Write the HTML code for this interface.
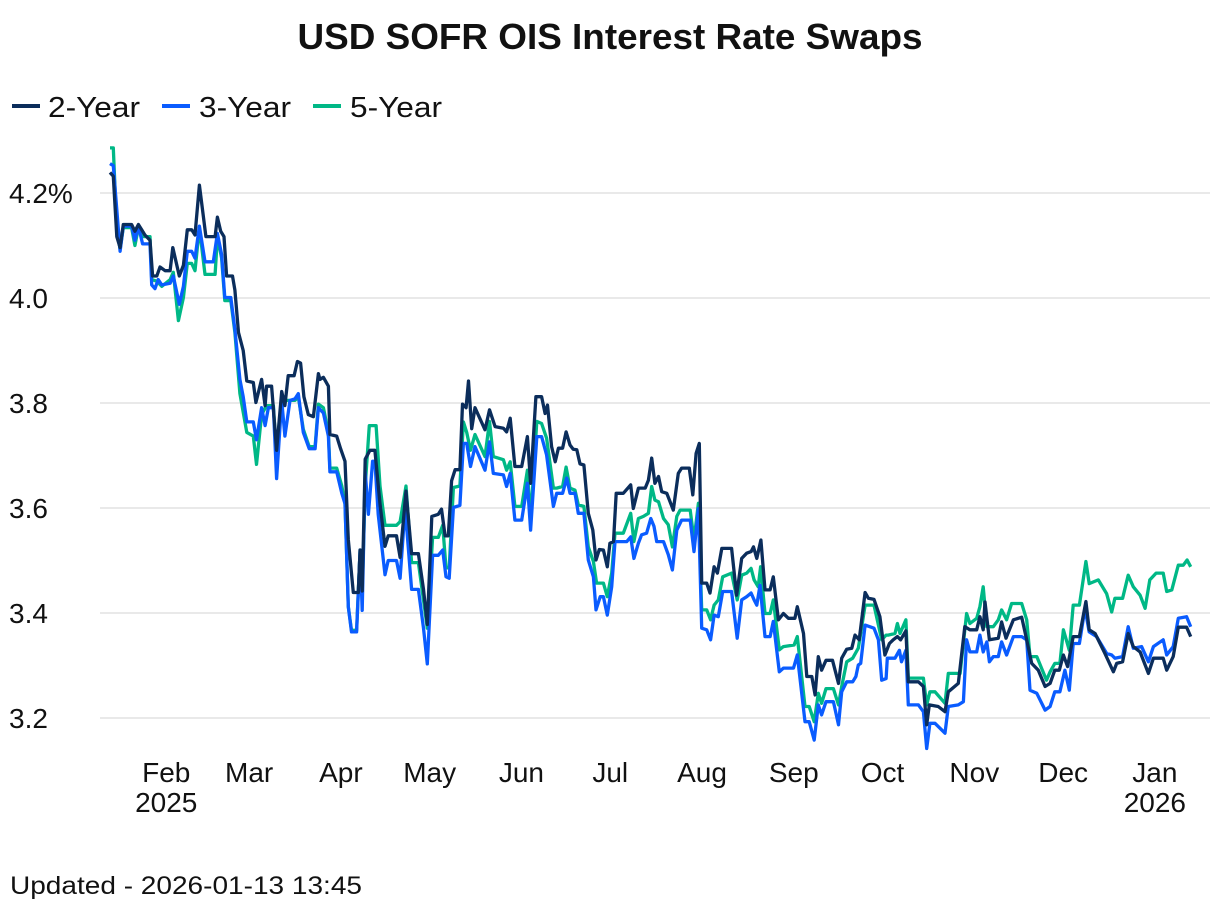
<!DOCTYPE html>
<html><head><meta charset="utf-8"><style>
html,body{margin:0;padding:0;background:#fff;}
body{width:1220px;height:914px;overflow:hidden;font-family:"Liberation Sans",sans-serif;}
</style></head><body>
<svg id="chart" width="1220" height="914" xmlns="http://www.w3.org/2000/svg" font-family="Liberation Sans, sans-serif">
<text x="610" y="49" text-anchor="middle" font-size="36" font-weight="bold" fill="#111" textLength="625" lengthAdjust="spacingAndGlyphs">USD SOFR OIS Interest Rate Swaps</text>
<g font-size="29" fill="#111">
<g><line x1="12" y1="106" x2="40" y2="106" stroke="#0b2d5b" stroke-width="4"/><text x="48" y="117" textLength="92" lengthAdjust="spacingAndGlyphs">2-Year</text></g>
<g><line x1="162" y1="106" x2="190" y2="106" stroke="#0a5cff" stroke-width="4"/><text x="199" y="117" textLength="92" lengthAdjust="spacingAndGlyphs">3-Year</text></g>
<g><line x1="313" y1="106" x2="341" y2="106" stroke="#00b886" stroke-width="4"/><text x="350" y="117" textLength="92" lengthAdjust="spacingAndGlyphs">5-Year</text></g>
</g>
<g id="grid"></g>
<g id="yaxis"></g>
<g id="xaxis"></g>
<g id="series"></g>
<text x="10" y="894" font-size="25" fill="#111" textLength="352" lengthAdjust="spacingAndGlyphs">Updated - 2026-01-13 13:45</text>
</svg>
<script>
const yTicks=[4.2,4.0,3.8,3.6,3.4,3.2];
const yTickLabels=["4.2%","4.0","3.8","3.6","3.4","3.2"];
const monthDays=[19,47,78,108,139,169,200,231,261,292,322,353];
const monthLabels=["Feb","Mar","Apr","May","Jun","Jul","Aug","Sep","Oct","Nov","Dec","Jan"];
const yearDays=[19,353];
const yearLabels=["2025","2026"];
const days2=[0,1.1,2.3,3.4,4.5,7.3,8.4,9.6,10.7,11.8,13.5,14.4,15.8,16.9,18.6,20.3,21.2,23.4,24.8,26.1,27.6,28.7,30.2,32.4,35.5,36.3,37.4,38.5,39.4,41.4,42.2,43.4,45,46.2,48.4,49.3,51.2,52.4,52.9,54.6,56.3,58,59.1,60.2,62.2,63.3,64.4,65.5,67,68.7,70.4,70.9,72.1,73.8,74.3,76.6,77.9,79.4,80.5,82.2,83.9,84.5,85.2,86.2,87.8,89.5,91.2,92.9,94,96.8,98,100,101.9,104.2,105.9,107.2,108.7,110.9,112,113.2,114.3,115.4,116.6,118.2,119.1,120.3,121.1,122.2,123.3,126.7,128.2,130.1,132.9,134,135.2,136.8,139.1,141,142.1,143.9,145.8,147,147.8,149.2,150.4,151.5,152.9,154.1,155.4,156.5,157.7,158.8,160.1,161.6,163.1,164.2,165.3,166.7,168,168.9,170.1,171,173.4,175.9,176.8,178.5,180.8,181.9,183,184.1,185.3,186.4,188.1,190.3,192,193.1,195.7,196.9,198,199.1,199.9,201.6,202.7,204.1,205.2,206.7,210,211.7,213.4,215.1,216.6,217.4,218.5,219.9,221.3,223,224.1,225.8,227.5,229.2,231.4,232.2,234.3,235.4,237.1,238.2,239.3,240.4,241.9,244.1,246.1,247.2,248.9,250.6,251.7,253.1,255.1,256.2,258.1,260.1,261.8,263.3,264.6,266,267.1,268.9,269.7,273.1,274.8,275.9,276.8,279.8,282.1,283.2,286.6,288.8,290.5,292.8,293.9,295,295.6,297.1,300.1,301.2,302.7,305.2,308,309.7,311.4,313.6,315.9,317.6,319.2,320.7,322.1,323.5,325.4,327.5,329.7,330.8,332.8,336.1,339,340.1,342.1,344,345.7,348,350.8,352.5,355.8,357,359.2,360.9,363.7,365.1];
const vals2=[4.239,4.232,4.117,4.096,4.14,4.14,4.127,4.14,4.13,4.12,4.11,4.042,4.042,4.059,4.052,4.052,4.096,4.042,4.062,4.13,4.13,4.12,4.215,4.117,4.117,4.154,4.127,4.117,4.042,4.042,4.015,3.934,3.9,3.842,3.839,3.801,3.845,3.795,3.832,3.832,3.71,3.822,3.795,3.852,3.852,3.879,3.876,3.812,3.778,3.774,3.856,3.845,3.849,3.832,3.74,3.737,3.713,3.689,3.54,3.439,3.439,3.52,3.442,3.693,3.71,3.71,3.608,3.527,3.547,3.547,3.506,3.632,3.513,3.513,3.445,3.378,3.584,3.588,3.598,3.547,3.547,3.652,3.673,3.673,3.798,3.791,3.842,3.751,3.791,3.749,3.787,3.755,3.752,3.745,3.771,3.679,3.679,3.736,3.647,3.812,3.812,3.78,3.796,3.717,3.688,3.714,3.714,3.745,3.72,3.712,3.711,3.684,3.682,3.59,3.558,3.501,3.521,3.52,3.488,3.533,3.536,3.628,3.628,3.644,3.599,3.638,3.638,3.653,3.695,3.647,3.66,3.631,3.628,3.596,3.666,3.676,3.676,3.625,3.704,3.723,3.457,3.457,3.438,3.488,3.476,3.523,3.523,3.434,3.504,3.514,3.517,3.526,3.504,3.539,3.444,3.444,3.469,3.387,3.399,3.39,3.39,3.412,3.361,3.279,3.279,3.244,3.317,3.291,3.31,3.31,3.266,3.314,3.331,3.333,3.358,3.349,3.439,3.428,3.426,3.393,3.32,3.342,3.349,3.355,3.349,3.366,3.269,3.269,3.26,3.187,3.225,3.222,3.212,3.25,3.266,3.374,3.368,3.368,3.393,3.368,3.421,3.349,3.352,3.383,3.352,3.387,3.392,3.349,3.304,3.291,3.26,3.266,3.291,3.291,3.32,3.298,3.355,3.355,3.422,3.368,3.361,3.323,3.288,3.304,3.307,3.361,3.336,3.326,3.285,3.314,3.314,3.291,3.317,3.373,3.373,3.355];
const days3=[0,1.1,3.4,4.5,7.3,8.4,9.6,11,13.5,14.1,15.2,16.3,17.5,20.3,21.4,23.4,24.8,26.1,27.6,28.7,30.2,32.1,34.9,36.3,37.7,38.8,40.8,42.2,43.9,45,46.2,48.4,49.5,51.2,52.4,53.5,55.2,56.3,58,59.1,60.8,62.5,63.6,65.3,67.3,69.3,70.4,72.1,73.8,74.3,76.6,78.3,79.4,80.5,81.6,83.3,84.5,85.2,86.2,87.3,88.7,89.5,90.6,92.9,94,96.8,98,99.7,101.9,104.2,105.9,107.2,109,110.9,112.4,113.5,114.6,116,118.2,119.4,120.5,121.8,123.3,126.7,128.2,129.5,132.9,134,135.2,136.8,139.1,141,142.1,144.2,145.8,147.5,149.8,150.9,152.9,154.3,155.4,157.1,158.2,160.1,161.6,163.3,164.2,165.6,166.7,168,169.5,170.6,174.6,175.9,177,178.5,179.6,181.3,182.7,183.8,184.7,187,188.6,190,191.5,193.1,196,197.3,198.8,199.9,201.6,202.9,204.1,205.5,207,210,211.9,213.4,215.1,216.6,217.6,218.5,219.6,221.3,223,224.1,226.1,227.5,230.9,232.2,234.8,236.2,237.9,239.3,240.4,241.9,244.4,246.1,247.2,248.9,250.9,252,252.8,253.6,255.1,258.1,259.6,260.7,262.2,262.6,265.2,266.7,267.4,268.9,269.7,273.1,274.8,275.9,277,278.7,282.1,283.2,286.6,288.3,289.4,290.5,292.8,293.9,295,296.2,297.1,298.4,300.1,301.2,302.9,305.2,308,309.7,310.8,313.1,315.9,317.6,319.2,320.9,322.6,324.1,325.4,327.5,329.4,330.8,333.3,336.7,338.4,339.5,342.1,344,345.7,348.5,350.8,352.5,355.8,357,359.2,360.9,363.7,365.1];
const vals3=[4.256,4.252,4.089,4.137,4.137,4.11,4.137,4.103,4.103,4.025,4.018,4.035,4.025,4.028,4.042,3.988,4.022,4.089,4.089,4.076,4.137,4.069,4.069,4.123,4.083,4.001,4.001,3.94,3.845,3.812,3.764,3.764,3.73,3.791,3.757,3.791,3.791,3.656,3.805,3.737,3.805,3.808,3.818,3.744,3.713,3.713,3.791,3.781,3.737,3.669,3.669,3.628,3.608,3.412,3.364,3.364,3.52,3.405,3.669,3.588,3.689,3.689,3.588,3.473,3.5,3.5,3.466,3.601,3.445,3.445,3.371,3.303,3.51,3.51,3.52,3.469,3.466,3.601,3.605,3.723,3.723,3.679,3.717,3.672,3.726,3.666,3.663,3.641,3.666,3.577,3.577,3.647,3.558,3.736,3.736,3.701,3.603,3.628,3.628,3.657,3.628,3.628,3.59,3.59,3.501,3.469,3.406,3.431,3.431,3.396,3.45,3.536,3.536,3.545,3.504,3.533,3.549,3.552,3.58,3.565,3.536,3.536,3.511,3.482,3.558,3.577,3.577,3.517,3.599,3.371,3.368,3.349,3.396,3.393,3.441,3.441,3.352,3.425,3.431,3.438,3.425,3.415,3.453,3.355,3.355,3.384,3.288,3.295,3.295,3.32,3.193,3.193,3.158,3.225,3.206,3.231,3.231,3.187,3.25,3.269,3.269,3.279,3.301,3.304,3.377,3.371,3.349,3.272,3.275,3.314,3.314,3.329,3.307,3.329,3.225,3.225,3.212,3.142,3.19,3.19,3.171,3.222,3.225,3.231,3.349,3.326,3.326,3.358,3.326,3.345,3.307,3.317,3.317,3.345,3.32,3.355,3.355,3.349,3.253,3.247,3.215,3.222,3.25,3.25,3.291,3.253,3.342,3.342,3.409,3.364,3.355,3.323,3.32,3.314,3.317,3.374,3.333,3.336,3.307,3.336,3.349,3.32,3.336,3.39,3.393,3.374];
const days5=[0,1.1,2.3,3.4,4.5,7.3,8.4,9.6,11,13.5,14.1,15.8,17.5,20.3,21.4,23.1,24.8,26.1,27.6,28.7,30.2,32.1,35.5,36.3,37.7,38.8,40.8,42.2,43.9,46.2,48.4,49.5,51.2,52.9,55.2,56.3,58,59.7,62.5,63.6,65.3,67.3,69.3,70.4,72.1,73.8,74.3,76.6,78.3,79.4,80.5,81.6,83.3,84.5,85.2,86.2,87.6,89.9,91.2,92.9,96.8,98,100,101.9,104.2,105.9,107.2,109,110.9,112.4,113.5,114.6,116,118.2,119.4,120.5,121.8,123.3,126.7,128.2,129.5,132.9,134,135.2,136.8,139.1,141,142.1,144.2,145.8,147.5,149.8,150.9,152.9,154.1,155.4,157.1,158.2,160.1,161.6,163.3,164.4,166.7,168,169.5,170.6,173.4,175.9,177,178.5,180.2,181.9,183,184.1,185.3,187,188.6,190,191.5,192.6,196,197.3,198.8,199.9,201.6,202.9,204.1,205.5,207,210,211.9,213.4,215.1,216.6,217.6,219,219.8,221.3,223,224.1,226.1,227.5,231.1,232.2,234.8,236.2,237.9,239.3,240.4,241.9,244.4,246.1,247.2,248.9,250.9,252.8,253.6,255.1,258.1,260.7,262.2,262.9,265.2,266,266.9,268.9,269.7,274.8,275.9,277,278.7,282.1,283.2,287.2,289.4,290.5,292.8,293.9,295,296.2,298.4,300.1,301.2,302.9,304.6,308,309.7,310.8,313.1,316.4,317.6,319.2,320.9,322.1,324.1,325.4,327.5,329.7,330.8,333.9,336.7,338.4,339.5,342.1,344,345.7,348,349.7,351.3,353.4,355.8,357,358.7,360.9,362.6,363.9,365.1];
const vals5=[4.286,4.286,4.13,4.093,4.134,4.134,4.1,4.134,4.117,4.117,4.035,4.032,4.022,4.035,4.049,3.957,4.001,4.066,4.066,4.052,4.134,4.045,4.045,4.117,4.076,3.995,3.995,3.934,3.818,3.744,3.737,3.683,3.778,3.795,3.795,3.696,3.798,3.805,3.805,3.812,3.75,3.717,3.717,3.798,3.791,3.744,3.676,3.676,3.642,3.608,3.412,3.367,3.367,3.52,3.439,3.642,3.757,3.757,3.642,3.567,3.567,3.574,3.642,3.496,3.496,3.425,3.371,3.544,3.544,3.567,3.486,3.486,3.639,3.642,3.764,3.744,3.71,3.74,3.698,3.765,3.698,3.692,3.672,3.688,3.603,3.603,3.672,3.577,3.765,3.761,3.733,3.638,3.638,3.641,3.678,3.638,3.634,3.606,3.603,3.526,3.498,3.457,3.457,3.431,3.476,3.552,3.552,3.59,3.536,3.58,3.584,3.59,3.641,3.615,3.612,3.58,3.568,3.526,3.584,3.596,3.596,3.539,3.609,3.406,3.406,3.387,3.415,3.425,3.469,3.476,3.425,3.472,3.476,3.485,3.463,3.45,3.488,3.399,3.399,3.425,3.33,3.336,3.339,3.355,3.222,3.222,3.193,3.247,3.228,3.256,3.256,3.225,3.26,3.307,3.314,3.333,3.361,3.415,3.415,3.349,3.358,3.358,3.361,3.38,3.361,3.387,3.276,3.276,3.225,3.25,3.25,3.228,3.285,3.285,3.399,3.38,3.39,3.412,3.45,3.374,3.374,3.387,3.406,3.387,3.418,3.418,3.387,3.317,3.317,3.272,3.288,3.304,3.304,3.368,3.329,3.415,3.415,3.498,3.456,3.463,3.437,3.402,3.428,3.428,3.472,3.45,3.434,3.409,3.463,3.476,3.476,3.441,3.444,3.491,3.491,3.501,3.488];

const NS="http://www.w3.org/2000/svg";
const xScale=d=>110+d*2.96;
const yScale=v=>193+(4.2-v)*525;
function mk(tag,attrs,parent){const e=document.createElementNS(NS,tag);for(const k in attrs)e.setAttribute(k,attrs[k]);parent.appendChild(e);return e;}
const grid=document.getElementById('grid'),ya=document.getElementById('yaxis'),xa=document.getElementById('xaxis'),ser=document.getElementById('series');
yTicks.forEach((t,i)=>{
  const g=mk('line',{x1:100,x2:1210,y1:yScale(t),y2:yScale(t),stroke:'#e2e2e2','stroke-width':1.5},grid);
  
  
  const tx=mk('text',{x:9,y:yScale(t)+10,'font-size':28,fill:'#111'},ya);
  
  
  tx.textContent=yTickLabels[i];
});
monthDays.forEach((d,i)=>{
  const tx=mk('text',{x:xScale(d),y:782,'font-size':28,fill:'#111','text-anchor':'middle'},xa);
  
  
  tx.textContent=monthLabels[i];
});
yearDays.forEach((d,i)=>{
  const tx=mk('text',{x:xScale(d),y:812,'font-size':28,fill:'#111','text-anchor':'middle'},xa);
  
  
  tx.textContent=yearLabels[i];
});
function drawLine(days,vals,color,name){
  const pts=days.map((d,i)=>xScale(d).toFixed(1)+','+yScale(vals[i]).toFixed(1)).join(' ');
  const p=mk('polyline',{points:pts,fill:'none',stroke:color,'stroke-width':3.3,'stroke-linejoin':'round'},ser);
  
  
}
drawLine(days5,vals5,'#00b886','line-5-year');
drawLine(days3,vals3,'#0a5cff','line-3-year');
drawLine(days2,vals2,'#0b2d5b','line-2-year');
</script>
</body></html>
